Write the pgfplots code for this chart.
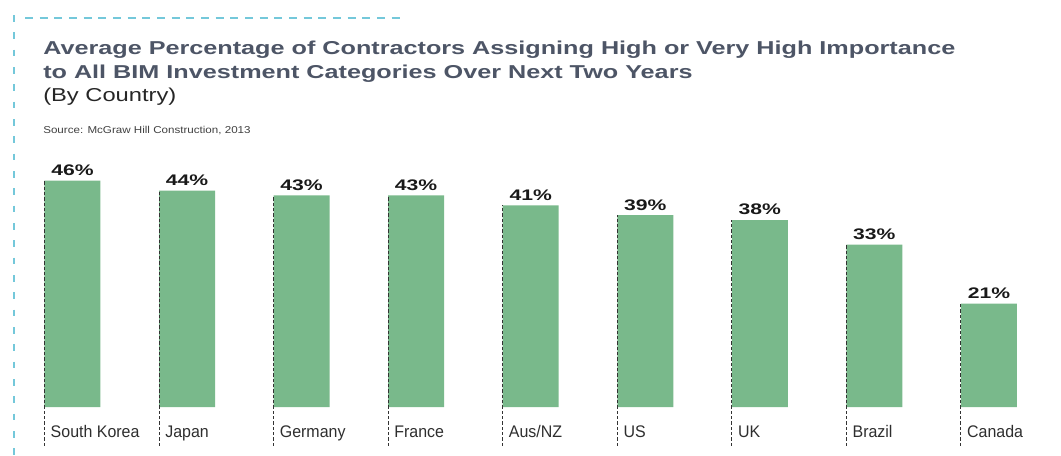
\documentclass[border=0pt]{standalone}
\usepackage{fontspec}
\usepackage{pgfplots}
\pgfplotsset{compat=1.18}
\setmainfont{Liberation Sans}
\newfontfamily\titlefont[FakeStretch=1.35]{Liberation Sans}
\newfontfamily\subfont[FakeStretch=1.27]{Liberation Sans}
\newfontfamily\srcfont[FakeStretch=1.16]{Liberation Sans}
\newfontfamily\valfont[FakeStretch=1.38]{Liberation Sans}
\newfontfamily\catfont[FakeStretch=0.95]{Liberation Sans}
\definecolor{bargreen}{HTML}{79B98B}
\definecolor{titlecol}{HTML}{4D5566}
\definecolor{bordercyan}{HTML}{74C8DA}
\definecolor{dashgray}{HTML}{333333}
\definecolor{catgray}{HTML}{2E2E2E}
\begin{document}
\begin{tikzpicture}
\begin{scope}[x=0.75pt,y=0.75pt]
\path[use as bounding box] (0,0) rectangle (1061,455);
\draw[bordercyan, line width=0.9pt, dash pattern=on 6 off 5] (25,437) -- (402,437);
\draw[bordercyan, line width=0.9pt, dash pattern=on 5 off 8] (14,440) -- (14,0);
\node[anchor=base west, inner sep=0, text=titlecol, font=\titlefont\bfseries\fontsize{14}{16}\selectfont] at (43,401) {Average Percentage of Contractors Assigning High or Very High Importance};
\node[anchor=base west, inner sep=0, text=titlecol, font=\titlefont\bfseries\fontsize{14}{16}\selectfont] at (43,377) {to All BIM Investment Categories Over Next Two Years};
\node[anchor=base west, inner sep=0, text=black!85, font=\subfont\fontsize{14}{16}\selectfont] at (43,354) {(By Country)};
\node[anchor=base west, inner sep=0, text=black!75, font=\srcfont\fontsize{7.5}{9}\selectfont] at (43,322) {Source: McGraw Hill Construction, 2013};
\end{scope}
\begin{axis}[
  at={(11.4pt,36pt)}, anchor=south west,
  scale only axis, width=773.25pt, height=184.5pt,
  xmin=-0.5, xmax=8.5, ymin=0, ymax=50,
  axis line style={draw=none}, tick style={draw=none},
  major tick length=0pt,
  ytick=\empty,
  xtick={0,1,2,3,4,5,6,7,8},
  xticklabels={South Korea,Japan,Germany,France,Aus/NZ,US,UK,Brazil,Canada},
  xticklabel style={font=\catfont\fontsize{12.6}{14}\selectfont, text=catgray, anchor=base west, inner sep=0pt, xshift=-16.5pt, yshift=-22.5pt},
  clip=false,
  /pgf/number format/assume math mode=true,
]
\addplot[ybar, bar width=42pt, fill=bargreen, draw=none,
  nodes near coords={\pgfmathprintnumber{\pgfplotspointmeta}\%},
  every node near coord/.append style={font=\valfont\bfseries\fontsize{11.5}{13}\selectfont, text=black!90, anchor=south, inner sep=0pt, yshift=3.5pt}]
  coordinates {(0,46) (1,44) (2,43) (3,43) (4,41) (5,39) (6,38) (7,33) (8,21)};
\addplot[dashgray, line width=0.75pt, dash pattern=on 2.5pt off 1.5pt, xshift=-21pt, mark=none, unbounded coords=jump]
  coordinates {(0,-7.9) (0,46) (0,nan) (1,-7.9) (1,44) (1,nan) (2,-7.9) (2,43) (2,nan) (3,-7.9) (3,43) (3,nan) (4,-7.9) (4,41) (4,nan) (5,-7.9) (5,39) (5,nan) (6,-7.9) (6,38) (6,nan) (7,-7.9) (7,33) (7,nan) (8,-7.9) (8,21)};
\end{axis}
\end{tikzpicture}
\end{document}
